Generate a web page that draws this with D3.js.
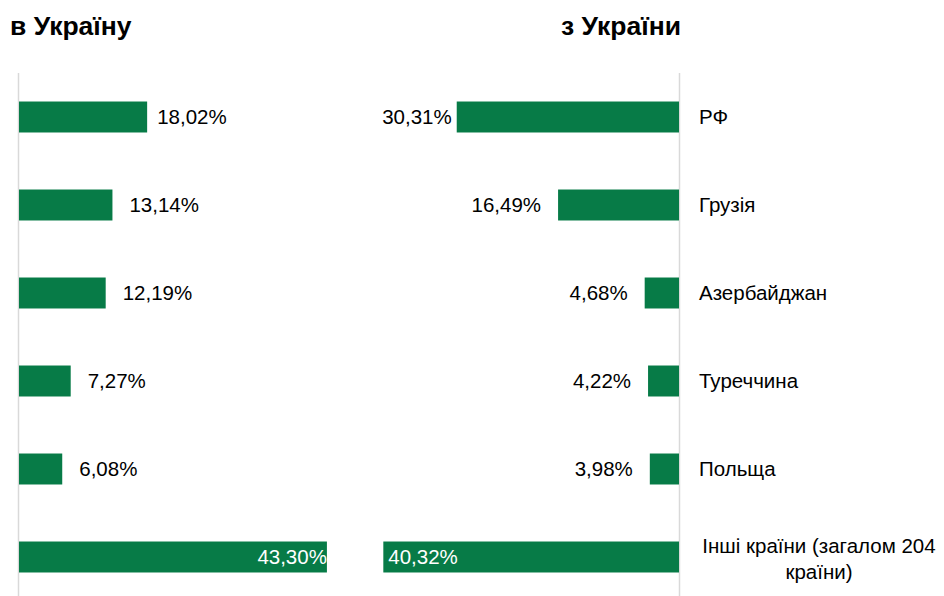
<!DOCTYPE html>
<html>
<head>
<meta charset="utf-8">
<script src="https://cdn.jsdelivr.net/npm/d3@7"></script>
<style>
  body { margin: 0; background: #fff; }
  text { font-family: "Liberation Sans", Arial, sans-serif; }
</style>
</head>
<body>
<div id="chart"></div>
<script>
var countries = ["РФ", "Грузія", "Азербайджан", "Туреччина", "Польща", "Інші країни (загалом 204 країни)"];
var toUkraine = [18.02, 13.14, 12.19, 7.27, 6.08, 43.30];
var fromUkraine = [30.31, 16.49, 4.68, 4.22, 3.98, 40.32];

var width = 944, height = 596;
var green = "#077b47";
var fs = "20.5px";
var last = countries.length - 1;
var fmt = function (v) { return v.toFixed(2).replace(".", ",") + "%"; };

var svg = d3.select("#chart").append("svg")
    .attr("width", width)
    .attr("height", height);

var y = d3.scaleBand()
    .domain(d3.range(countries.length))
    .range([73, 601])
    .paddingInner(0.648)
    .paddingOuter(0.324);

var xLeft = d3.scaleLinear().domain([0, 45]).range([19, 339]);
var xRight = d3.scaleLinear().domain([0, 45]).range([679, 349]);

// titles
svg.append("text").attr("x", 10).attr("y", 35)
    .style("font-size", "26.5px").style("font-weight", "bold")
    .text("в Україну");
svg.append("text").attr("x", 621).attr("y", 35)
    .attr("text-anchor", "middle")
    .style("font-size", "26.5px").style("font-weight", "bold")
    .text("з України");

// axis lines
svg.append("line").attr("x1", 18.5).attr("x2", 18.5).attr("y1", 73).attr("y2", 596)
    .attr("stroke", "#d9d9d9").attr("stroke-width", 1.5);
svg.append("line").attr("x1", 679.5).attr("x2", 679.5).attr("y1", 73).attr("y2", 596)
    .attr("stroke", "#d9d9d9").attr("stroke-width", 1.5);

// left bars
var left = svg.append("g");
left.selectAll("rect").data(toUkraine).enter().append("rect")
    .attr("x", xLeft(0))
    .attr("y", function (d, i) { return y(i); })
    .attr("width", function (d) { return xLeft(d) - xLeft(0); })
    .attr("height", y.bandwidth())
    .attr("fill", green);

left.selectAll("text").data(toUkraine).enter().append("text")
    .attr("x", function (d, i) {
        if (i === last) return xLeft(d);
        return xLeft(d) + (i === 0 ? 10 : 17);
    })
    .attr("y", function (d, i) { return y(i) + y.bandwidth() / 2; })
    .attr("dy", "0.35em")
    .attr("text-anchor", function (d, i) { return i === last ? "end" : "start"; })
    .attr("fill", function (d, i) { return i === last ? "#fff" : "#000"; })
    .style("font-size", fs)
    .text(fmt);

// right bars
var right = svg.append("g");
right.selectAll("rect").data(fromUkraine).enter().append("rect")
    .attr("x", function (d) { return xRight(d); })
    .attr("y", function (d, i) { return y(i); })
    .attr("width", function (d) { return xRight(0) - xRight(d); })
    .attr("height", y.bandwidth())
    .attr("fill", green);

right.selectAll("text").data(fromUkraine).enter().append("text")
    .attr("x", function (d, i) {
        if (i === last) return xRight(d) + 5;
        return xRight(d) - (i === 0 ? 5 : 17);
    })
    .attr("y", function (d, i) { return y(i) + y.bandwidth() / 2; })
    .attr("dy", "0.35em")
    .attr("text-anchor", function (d, i) { return i === last ? "start" : "end"; })
    .attr("fill", function (d, i) { return i === last ? "#fff" : "#000"; })
    .style("font-size", fs)
    .text(fmt);

// category labels
var cats = svg.append("g");
countries.forEach(function (c, i) {
    var cy = y(i) + y.bandwidth() / 2;
    if (i === last) {
        var t = cats.append("text").attr("text-anchor", "middle").style("font-size", fs);
        t.append("tspan").attr("x", 819).attr("y", cy - 4).text("Інші країни (загалом 204");
        t.append("tspan").attr("x", 819).attr("y", cy + 22).text("країни)");
    } else {
        cats.append("text")
            .attr("x", 699)
            .attr("y", cy)
            .attr("dy", "0.35em")
            .style("font-size", fs)
            .text(c);
    }
});
</script>
</body>
</html>
